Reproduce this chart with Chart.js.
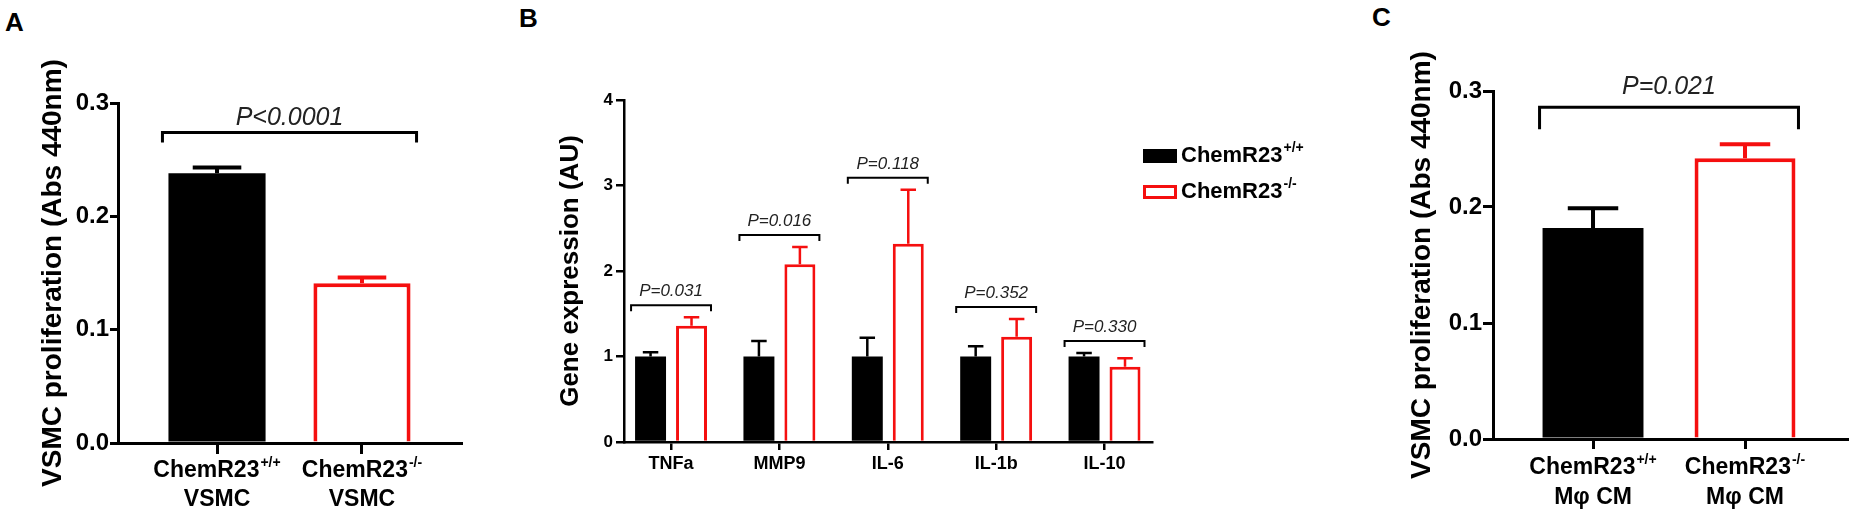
<!DOCTYPE html>
<html>
<head>
<meta charset="utf-8">
<title>ChemR23 VSMC proliferation</title>
<script src="https://cdn.jsdelivr.net/npm/chart.js@4.4.1/dist/chart.umd.min.js"></script>
<style>
  body { margin: 0; width: 1850px; height: 518px; background: #fff; position: relative; overflow: hidden;
         font-family: "Liberation Sans", Arial, Helvetica, sans-serif; }
  .panel { position: absolute; top: 0; height: 518px; }
  .letter { position: absolute; font-weight: bold; font-size: 26px; line-height: 1; color: #000; }
</style>
</head>
<body>
<div class="letter" style="left:5px;top:9px">A</div>
<div class="letter" style="left:519px;top:5px">B</div>
<div class="letter" style="left:1372px;top:4px">C</div>
<div class="panel" style="left:0;width:480px"><canvas id="chartA"></canvas></div>
<div class="panel" style="left:480px;width:850px"><canvas id="chartB"></canvas></div>
<div class="panel" style="left:1330px;width:520px"><canvas id="chartC"></canvas></div>

<script>
// --- data ---
const strainName = ['ChemR23', 'ChemR23'];
const genotypes = ['+/+', '-/-'];

// A: VSMC from each genotype
const cellsA = ['VSMC', 'VSMC'];
const meanA = [0.238, 0.141];
const semA = [0.005, 0.005];
const pA = 'P<0.0001';
const yTicksA = [0, 0.1, 0.2, 0.3];

// B: gene expression
const genes = ['TNFa', 'MMP9', 'IL-6', 'IL-1b', 'IL-10'];
const wtMean = [1.0, 1.0, 1.0, 1.0, 1.0];
const wtSem = [0.05, 0.18, 0.22, 0.12, 0.04];
const koMean = [1.36, 2.08, 2.32, 1.23, 0.88];
const koSem = [0.10, 0.20, 0.63, 0.21, 0.10];
const pB = ['P=0.031', 'P=0.016', 'P=0.118', 'P=0.352', 'P=0.330'];
const yTicksB = [0, 1, 2, 3, 4];

// C: VSMC with macrophage conditioned medium
const cellsC = ['Mφ CM', 'Mφ CM'];
const meanC = [0.182, 0.242];
const semC = [0.017, 0.012];
const pC = 'P=0.021';
const yTicksC = [0, 0.1, 0.2, 0.3];

const FONT = '"Liberation Sans", Arial, Helvetica, sans-serif';
const RED = '#f50f0f';
Chart.defaults.font.family = FONT;
Chart.defaults.color = '#000';

function toPoints(values) {
  return values.map((v, i) => ({ x: i, y: v }));
}

// text with a raised superscript, e.g. ChemR23+/+
function drawSupText(ctx, x, y, main, sup, size, align) {
  const supSize = Math.round(size * 0.62);
  ctx.font = `bold ${size}px ${FONT}`;
  const w1 = ctx.measureText(main).width;
  ctx.font = `bold ${supSize}px ${FONT}`;
  const w2 = ctx.measureText(sup).width;
  const start = align === 'center' ? x - (w1 + w2 + 1) / 2 : x;
  ctx.textAlign = 'left';
  ctx.textBaseline = 'middle';
  ctx.font = `bold ${size}px ${FONT}`;
  ctx.fillText(main, start, y);
  ctx.font = `bold ${supSize}px ${FONT}`;
  ctx.fillText(sup, start + w1 + 1, y - size * 0.36);
}

function errTop(chart, di, i) {
  const ds = chart.data.datasets[di];
  return chart.scales.y.getPixelForValue(ds.data[i].y + ds.errors[i]);
}

const errorBars = {
  id: 'errorBars',
  afterDatasetsDraw(chart, args, o) {
    const ctx = chart.ctx;
    ctx.save();
    ctx.lineWidth = o.lineWidth;
    chart.data.datasets.forEach((ds, di) => {
      chart.getDatasetMeta(di).data.forEach((bar, i) => {
        const top = errTop(chart, di, i);
        const cap = bar.width * o.capRatio / 2;
        ctx.strokeStyle = Array.isArray(ds.borderColor) ? ds.borderColor[i] : ds.borderColor;
        ctx.beginPath();
        ctx.moveTo(bar.x, bar.y);
        ctx.lineTo(bar.x, top);
        ctx.moveTo(bar.x - cap, top);
        ctx.lineTo(bar.x + cap, top);
        ctx.stroke();
      });
    });
    ctx.restore();
  }
};

const pBrackets = {
  id: 'pBrackets',
  afterDraw(chart, args, o) {
    if (!o.pairs) return;
    const ctx = chart.ctx;
    ctx.save();
    o.pairs.forEach(p => {
      const a = chart.getDatasetMeta(p.bars[0][0]).data[p.bars[0][1]];
      const b = chart.getDatasetMeta(p.bars[1][0]).data[p.bars[1][1]];
      const y = Math.min(...p.bars.map(([di, i]) => errTop(chart, di, i))) - o.gap;
      const x1 = a.x - a.width / 2 - o.pad;
      const x2 = b.x + b.width / 2 + o.pad;
      ctx.strokeStyle = '#000';
      ctx.lineWidth = o.lineWidth;
      ctx.beginPath();
      ctx.moveTo(x1, y + o.leg);
      ctx.lineTo(x1, y);
      ctx.lineTo(x2, y);
      ctx.lineTo(x2, y + o.leg);
      ctx.stroke();
      ctx.fillStyle = '#222';
      ctx.font = `italic ${o.size}px ${FONT}`;
      ctx.textAlign = 'center';
      ctx.textBaseline = 'middle';
      ctx.fillText(p.text, (x1 + x2) / 2, y - o.textGap);
    });
    ctx.restore();
  }
};

const catLabels = {
  id: 'catLabels',
  afterDraw(chart, args, o) {
    if (!o.names) return;
    const ctx = chart.ctx;
    const xs = chart.scales.x;
    ctx.save();
    ctx.fillStyle = '#000';
    o.names.forEach((name, i) => {
      const px = xs.getPixelForValue(i);
      drawSupText(ctx, px, o.y1, name, o.sups[i], o.size, 'center');
      ctx.font = `bold ${o.size}px ${FONT}`;
      ctx.textAlign = 'center';
      ctx.fillText(o.second[i], px, o.y2);
    });
    ctx.restore();
  }
};

const boxLegend = {
  id: 'boxLegend',
  afterDraw(chart, args, o) {
    if (!o.show) return;
    const ctx = chart.ctx;
    ctx.save();
    chart.data.datasets.forEach((ds, i) => {
      const top = o.top + i * o.rowGap;
      if (ds.borderWidth) {
        ctx.fillStyle = '#fff';
        ctx.fillRect(o.left, top, o.boxW, o.boxH);
        ctx.strokeStyle = ds.borderColor;
        ctx.lineWidth = ds.borderWidth;
        ctx.strokeRect(o.left + ds.borderWidth / 2, top + ds.borderWidth / 2,
          o.boxW - ds.borderWidth, o.boxH - ds.borderWidth);
      } else {
        ctx.fillStyle = ds.backgroundColor;
        ctx.fillRect(o.left, top, o.boxW, o.boxH);
      }
      ctx.fillStyle = '#000';
      drawSupText(ctx, o.left + o.boxW + o.gap, top + o.boxH / 2, ds.label, ds.sup, o.size, 'left');
    });
    ctx.restore();
  }
};

function axisY(ticks, t) {
  return {
    min: ticks[0],
    max: ticks[ticks.length - 1],
    afterBuildTicks: s => { s.ticks = ticks.map(v => ({ value: v })); },
    afterFit: s => { s.width = t.width; },
    border: { display: true, color: '#000', width: t.line },
    grid: { display: true, drawOnChartArea: false, drawTicks: true, tickLength: t.tickLength, color: '#000', lineWidth: t.line },
    ticks: {
      padding: t.padding,
      font: { size: t.size, weight: 'bold' },
      color: '#000',
      callback: v => v.toFixed(t.digits)
    },
    title: {
      display: true,
      text: t.title,
      color: '#000',
      font: { size: t.titleSize, weight: 'bold' },
      padding: { top: t.titlePad, bottom: 0 }
    }
  };
}

function axisX(count, t) {
  return {
    type: 'linear',
    min: t.min,
    max: t.max,
    offset: false,
    afterBuildTicks: s => { s.ticks = Array.from({ length: count }, (_, i) => ({ value: i })); },
    afterFit: s => { s.height = t.height; },
    border: { display: true, color: '#000', width: t.line },
    grid: { display: true, offset: false, drawOnChartArea: false, drawTicks: true, tickLength: t.tickLength, color: '#000', lineWidth: t.line },
    ticks: {
      display: !!t.labels,
      padding: 3,
      font: { size: t.size || 12, weight: 'bold' },
      color: '#000',
      maxRotation: 0,
      autoSkip: false,
      callback: v => (t.labels ? t.labels[v] : '')
    }
  };
}

const common = {
  responsive: true,
  maintainAspectRatio: false,
  animation: false,
  events: []
};

// Panel A
new Chart(document.getElementById('chartA'), {
  type: 'bar',
  data: {
    datasets: [{
      data: toPoints(meanA),
      errors: semA,
      backgroundColor: ['#000', '#fff'],
      borderColor: ['#000', RED],
      borderWidth: [0, 4],
      categoryPercentage: 1,
      barPercentage: 0.67
    }]
  },
  options: Object.assign({}, common, {
    layout: { padding: { left: 0, right: 19, top: 103, bottom: 0 } },
    scales: {
      x: axisX(meanA.length, { min: -0.683, max: 1.683, height: 75, line: 3, tickLength: 11 }),
      y: axisY(yTicksA, { width: 118, line: 3, tickLength: 8, padding: 1, size: 24, digits: 1,
        title: 'VSMC proliferation (Abs 440nm)', titleSize: 28, titlePad: 36 })
    },
    plugins: {
      legend: { display: false },
      tooltip: { enabled: false },
      errorBars: { lineWidth: 4, capRatio: 0.5 },
      pBrackets: { pairs: [{ bars: [[0, 0], [0, 1]], text: pA }], gap: 35, leg: 10, pad: 6, lineWidth: 3, size: 25, textGap: 15 },
      catLabels: { names: strainName, sups: genotypes, second: cellsA, size: 23, y1: 471, y2: 500 }
    }
  }),
  plugins: [errorBars, pBrackets, catLabels]
});

// Panel B
new Chart(document.getElementById('chartB'), {
  type: 'bar',
  data: {
    datasets: [
      {
        label: strainName[0],
        sup: genotypes[0],
        data: toPoints(wtMean),
        errors: wtSem,
        backgroundColor: '#000',
        borderColor: '#000',
        borderWidth: 0,
        categoryPercentage: 0.756,
        barPercentage: 0.756
      },
      {
        label: strainName[1],
        sup: genotypes[1],
        data: toPoints(koMean),
        errors: koSem,
        backgroundColor: '#fff',
        borderColor: RED,
        borderWidth: 3,
        categoryPercentage: 0.756,
        barPercentage: 0.756
      }
    ]
  },
  options: Object.assign({}, common, {
    layout: { padding: { left: 0, right: 178, top: 100, bottom: 0 } },
    scales: {
      x: axisX(genes.length, { min: -0.434, max: 4.438, height: 76, line: 2.5, tickLength: 8, labels: genes, size: 18 }),
      y: axisY(yTicksB, { width: 144, line: 2.5, tickLength: 8, padding: 3, size: 17, digits: 0,
        title: 'Gene expression (AU)', titleSize: 26, titlePad: 75 })
    },
    plugins: {
      legend: { display: false },
      tooltip: { enabled: false },
      errorBars: { lineWidth: 2.5, capRatio: 0.5 },
      pBrackets: {
        pairs: genes.map((g, i) => ({ bars: [[0, i], [1, i]], text: pB[i] })),
        gap: 12, leg: 6, pad: 4, lineWidth: 2, size: 17, textGap: 14
      },
      boxLegend: { show: true, left: 663, top: 149, rowGap: 36, boxW: 34, boxH: 14, gap: 4, size: 22 }
    }
  }),
  plugins: [errorBars, pBrackets, boxLegend]
});

// Panel C
new Chart(document.getElementById('chartC'), {
  type: 'bar',
  data: {
    datasets: [{
      data: toPoints(meanC),
      errors: semC,
      backgroundColor: ['#000', '#fff'],
      borderColor: ['#000', RED],
      borderWidth: [0, 4],
      categoryPercentage: 1,
      barPercentage: 0.664
    }]
  },
  options: Object.assign({}, common, {
    layout: { padding: { left: 0, right: 3, top: 91, bottom: 0 } },
    scales: {
      x: axisX(meanC.length, { min: -0.658, max: 1.671, height: 79, line: 3, tickLength: 10 }),
      y: axisY(yTicksC, { width: 163, line: 3, tickLength: 10, padding: 1, size: 24, digits: 1,
        title: 'VSMC proliferation (Abs 440nm)', titleSize: 28, titlePad: 75 })
    },
    plugins: {
      legend: { display: false },
      tooltip: { enabled: false },
      errorBars: { lineWidth: 4, capRatio: 0.5 },
      pBrackets: { pairs: [{ bars: [[0, 0], [0, 1]], text: pC }], gap: 37, leg: 22, pad: 3, lineWidth: 3, size: 25, textGap: 20 },
      catLabels: { names: strainName, sups: genotypes, second: cellsC, size: 23, y1: 468, y2: 498 }
    }
  }),
  plugins: [errorBars, pBrackets, catLabels]
});
</script>
</body>
</html>
